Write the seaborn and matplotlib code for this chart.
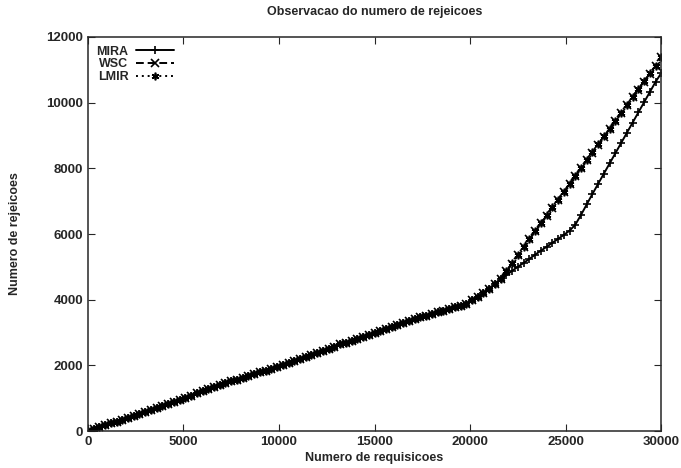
import matplotlib
matplotlib.use("Agg")
import matplotlib.pyplot as plt
import numpy as np
import pandas as pd
import seaborn as sns

# Number of requests (sampled every 300)
requisicoes = list(range(0, 30001, 300))

# Shared part of the three curves up to the split point (0 .. 21600)
comum = [
    0, 55, 115, 170, 235, 290, 350, 410, 470, 525,
    585, 650, 710, 770, 830, 890, 950, 1015, 1080, 1150,
    1220, 1285, 1345, 1400, 1455, 1510, 1565, 1620, 1675, 1730,
    1790, 1840, 1895, 1945, 2000, 2060, 2125, 2190, 2255, 2320,
    2385, 2445, 2510, 2570, 2635, 2695, 2755, 2815, 2870, 2930,
    2990, 3050, 3115, 3175, 3235, 3295, 3350, 3405, 3460, 3515,
    3570, 3620, 3670, 3720, 3770, 3820, 3880, 3980, 4080, 4200,
    4330, 4470, 4620,
]

# Rejections after the split (21900 .. 30000)
mira_fim = [
    4750, 4880, 5000, 5120, 5240, 5370, 5490, 5610, 5730, 5850,
    5970, 6100, 6280, 6580, 6900, 7220, 7530, 7840, 8150, 8460,
    8770, 9080, 9390, 9700, 10010, 10320, 10630, 10900,
]
wsc_fim = [
    4860, 5100, 5350, 5600, 5840, 6080, 6320, 6560, 6800, 7040,
    7280, 7520, 7760, 8000, 8240, 8480, 8720, 8960, 9200, 9440,
    9680, 9920, 10160, 10400, 10640, 10880, 11120, 11380,
]
lmir_fim = [
    4870, 5110, 5360, 5605, 5850, 6090, 6330, 6570, 6810, 7050,
    7290, 7530, 7770, 8010, 8250, 8490, 8730, 8970, 9210, 9450,
    9690, 9930, 10170, 10410, 10650, 10890, 11130, 11400,
]

mira = comum + mira_fim
wsc = comum + wsc_fim
lmir = comum + lmir_fim

series = ["MIRA", "WSC", "LMIR"]
valores = {"MIRA": mira, "WSC": wsc, "LMIR": lmir}
# gnuplot-like point types: plus, cross, asterisk
marcadores = {"MIRA": "+", "WSC": "x", "LMIR": (6, 2, 0)}
tracos = {"MIRA": "-", "WSC": (0, (4, 2)), "LMIR": (0, (1, 2))}

sns.set_style("ticks")
plt.rcParams["font.family"] = ["Liberation Sans", "DejaVu Sans"]
plt.rcParams["font.weight"] = "bold"

fig, ax = plt.subplots(figsize=(6.81, 4.68), dpi=100)
fig.subplots_adjust(left=0.129, right=0.971, top=0.921, bottom=0.079)

for s in series:
    sns.lineplot(
        x=requisicoes, y=valores[s], ax=ax, color="black",
        marker=marcadores[s], linestyle=tracos[s],
        markersize=5.5, linewidth=1.4, markeredgewidth=1.2,
        markeredgecolor="black", label=s,
        estimator=None, sort=False,
    )

ax.set_xlim(0, 30000)
ax.set_ylim(0, 12000)
ax.set_xticks(np.arange(0, 30001, 5000))
ax.set_yticks(np.arange(0, 12001, 2000))
ax.tick_params(direction="in", top=True, right=True, length=5, width=0.8,
               labelsize=9.5)
for lbl in ax.get_xticklabels() + ax.get_yticklabels():
    lbl.set_fontweight("bold")
for sp in ax.spines.values():
    sp.set_linewidth(1.1)
    sp.set_visible(True)

ax.set_title("Observacao do numero de rejeicoes", fontsize=9, pad=16,
             fontweight="bold")
ax.set_xlabel("Numero de requisicoes", fontsize=9, labelpad=3,
              fontweight="bold")
ax.set_ylabel("Numero de rejeicoes", fontsize=9, labelpad=18,
              fontweight="bold")

leg = ax.legend(loc="upper left", frameon=False, markerfirst=False,
                prop={"size": 9, "weight": "bold"},
                handlelength=3.0, handletextpad=0.6,
                labelspacing=0.05, borderaxespad=0.3,
                bbox_to_anchor=(0.0, 1.0))
for t in leg.get_texts():
    t.set_horizontalalignment("right")
leg._legend_box.align = "right"

fig.savefig("out.png", dpi=100)
